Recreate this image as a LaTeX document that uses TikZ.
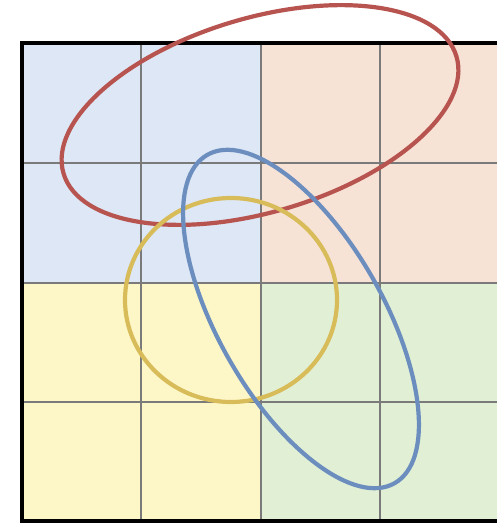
\documentclass[tikz,border=0pt]{standalone}
\definecolor{cblue}{HTML}{DDE7F5}
\definecolor{cpeach}{HTML}{F7E2D6}
\definecolor{cyellow}{HTML}{FDF7C8}
\definecolor{cgreen}{HTML}{E1F0D5}
\definecolor{gridgray}{HTML}{7A7A7A}
\definecolor{ered}{HTML}{B85450}
\definecolor{eblue}{HTML}{6C8EBF}
\definecolor{eyellow}{HTML}{D9BC5A}
\tikzset{
  gridline/.style={draw=gridgray, line width=2.6pt},
  frame/.style={draw=black, line width=4.2pt},
  loop/.style={line width=4.2pt, fill=none}
}
\begin{document}
\begin{tikzpicture}[x=1pt,y=1pt]
\useasboundingbox (0,0) rectangle (497,527);
\fill[white] (0,0) rectangle (497,527);
% cell fills
\fill[cblue]   (22,244) rectangle (261,484);
\fill[cpeach]  (261,244) rectangle (499,484);
\fill[cyellow] (22,6) rectangle (261,244);
\fill[cgreen]  (261,6) rectangle (499,244);
% grid lines
\foreach \x in {141,261,380} \draw[gridline] (\x,6) -- (\x,484);
\foreach \y in {125,244,364} \draw[gridline] (22,\y) -- (499,\y);
% frame
\draw[frame] (22,6) rectangle (499,484);
% ellipses
\draw[loop, draw=ered] (260,412) ellipse[x radius=205, y radius=97, rotate=16.6];
\draw[loop, draw=eyellow] (231,227) ellipse[x radius=106, y radius=102];
\draw[loop, draw=eblue] (301,208) ellipse[x radius=189, y radius=82.5, rotate=-60.3];
\end{tikzpicture}
\end{document}
